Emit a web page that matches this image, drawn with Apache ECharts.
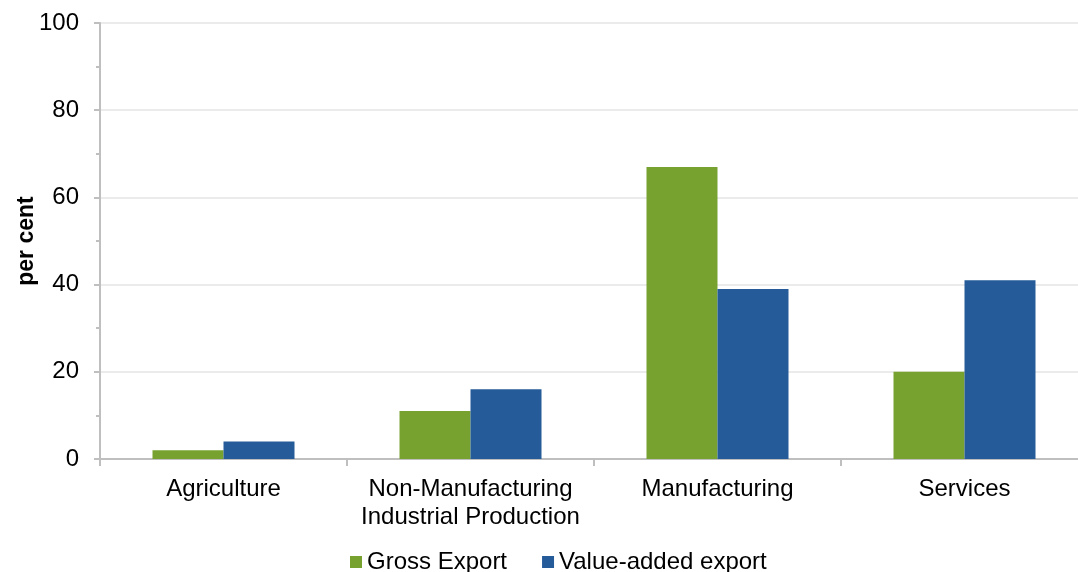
<!DOCTYPE html>
<html>
<head>
<meta charset="utf-8">
<script src="https://cdn.jsdelivr.net/npm/echarts@6/dist/echarts.min.js"></script>
<style>html,body{margin:0;padding:0;background:#fff;}#c{width:1078px;height:572px;}</style>
</head>
<body>
<div id="c"></div>
<script>
const categories = ['Agriculture', 'Non-Manufacturing\nIndustrial Production', 'Manufacturing', 'Services'];
const grossExport = [2, 11, 67, 20];
const valueAddedExport = [4, 16, 39, 41];
const yTicks = [0, 20, 40, 60, 80, 100];

const chart = echarts.init(document.getElementById('c'));
const font = 'Liberation Sans, Arial, sans-serif';
chart.setOption({
  animation: false,
  textStyle: { fontFamily: font },
  grid: { left: 100, top: 23, bottom: 113, right: -10, containLabel: false, outerBoundsMode: 'none' },
  legend: {
    left: 345, top: 545,
    itemWidth: 12, itemHeight: 12, itemGap: 35,
    icon: 'rect',
    textStyle: { fontSize: 24, color: '#000', fontFamily: font },
    data: ['Gross Export', 'Value-added export']
  },
  xAxis: {
    type: 'category',
    data: categories,
    axisLine: { lineStyle: { color: '#bfbfbf', width: 2 } },
    axisTick: { show: true, length: 7, lineStyle: { color: '#bfbfbf', width: 2 } },
    axisLabel: { fontSize: 24, color: '#000', margin: 16, lineHeight: 28, fontFamily: font, interval: 0 }
  },
  yAxis: {
    type: 'value',
    min: yTicks[0], max: yTicks[yTicks.length - 1], interval: 20,
    name: 'per cent',
    nameLocation: 'middle',
    nameGap: 62,
    nameMoveOverlap: false,
    nameRotate: 90,
    nameTextStyle: { fontSize: 23, fontWeight: 'bold', color: '#000', fontFamily: font },
    axisLine: { show: true, lineStyle: { color: '#bfbfbf', width: 2 } },
    axisTick: { show: true, length: 6, lineStyle: { color: '#bfbfbf', width: 2 } },
    minorTick: { show: true, splitNumber: 2, length: 4, lineStyle: { color: '#bfbfbf', width: 2 } },
    axisLabel: { fontSize: 24, color: '#000', margin: 21, fontFamily: font },
    splitLine: { show: true, lineStyle: { color: '#ebebeb', width: 2 } }
  },
  series: [
    {
      name: 'Gross Export', type: 'bar', data: grossExport,
      barWidth: 71, barGap: '0%',
      itemStyle: { color: '#77a22f' }
    },
    {
      name: 'Value-added export', type: 'bar', data: valueAddedExport,
      barWidth: 71,
      itemStyle: { color: '#265b99' }
    }
  ]
});
</script>
</body>
</html>
